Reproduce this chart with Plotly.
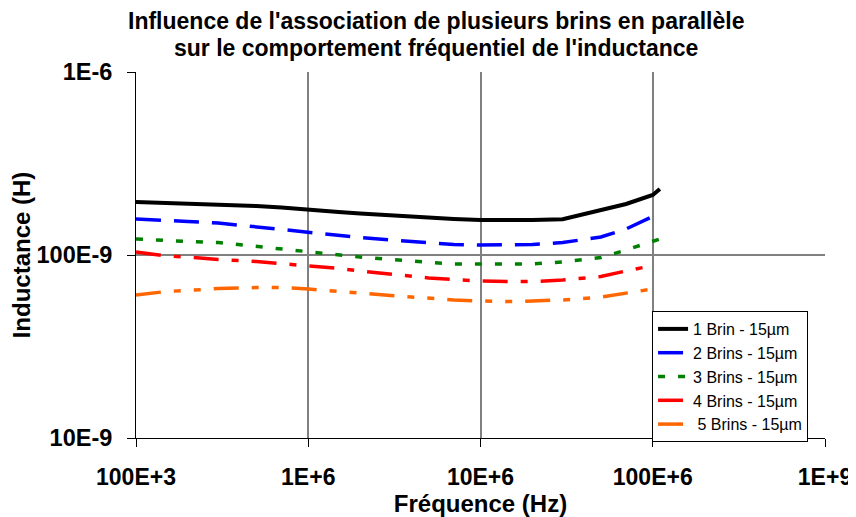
import plotly.graph_objects as go

# Frequencies (Hz)
freq = [1e5, 1.5e5, 2e5, 3e5, 5e5, 7e5, 1e6, 1.5e6, 2e6, 3e6, 5e6, 7e6,
        1e7, 1.5e7, 2e7, 3e7, 5e7, 7e7, 1e8]
freq_ext = freq + [1.1e8]

# Inductance values (H)
l_1brin = [1.949e-7, 1.925e-7, 1.925e-7, 1.90e-7, 1.853e-7, 1.818e-7, 1.762e-7,
           1.718e-7, 1.686e-7, 1.644e-7, 1.593e-7, 1.573e-7, 1.553e-7, 1.543e-7,
           1.553e-7, 1.567e-7, 1.762e-7, 1.90e-7, 2.128e-7, 2.295e-7]
l_2brins = [1.573e-7, 1.553e-7, 1.524e-7, 1.496e-7, 1.422e-7, 1.369e-7, 1.327e-7,
            1.278e-7, 1.246e-7, 1.208e-7, 1.163e-7, 1.141e-7, 1.134e-7, 1.134e-7,
            1.141e-7, 1.170e-7, 1.254e-7, 1.387e-7, 1.623e-7]
l_3brins = [1.223e-7, 1.193e-7, 1.185e-7, 1.170e-7, 1.113e-7, 1.078e-7, 1.038e-7,
            1.000e-7, 9.75e-8, 9.45e-8, 9.10e-8, 8.93e-8, 8.93e-8, 8.93e-8,
            8.93e-8, 9.16e-8, 9.69e-8, 1.065e-7, 1.178e-7, 1.223e-7]
l_4brins = [1.038e-7, 9.87e-8, 9.75e-8, 9.45e-8, 9.21e-8, 8.99e-8, 8.76e-8,
            8.44e-8, 8.18e-8, 7.87e-8, 7.49e-8, 7.35e-8, 7.21e-8, 7.16e-8,
            7.16e-8, 7.30e-8, 7.63e-8, 8.18e-8, 8.76e-8]
l_5brins = [6.04e-8, 6.32e-8, 6.40e-8, 6.56e-8, 6.64e-8, 6.64e-8, 6.52e-8,
            6.36e-8, 6.20e-8, 6.01e-8, 5.78e-8, 5.68e-8, 5.61e-8, 5.57e-8,
            5.61e-8, 5.68e-8, 5.89e-8, 6.16e-8, 6.52e-8]

series_names = ["1 Brin - 15µm", "2 Brins - 15µm", "3 Brins - 15µm",
                "4 Brins - 15µm", "\u00a05 Brins - 15µm"]

x_tickvals = [1e5, 1e6, 1e7, 1e8, 1e9]
x_ticktext = ["100E+3", "1E+6", "10E+6", "100E+6", "1E+9"]
y_tickvals = [1e-8, 1e-7, 1e-6]
y_ticktext = ["10E-9", "100E-9", "1E-6"]

title_line1 = "Influence de l'association de plusieurs brins en parallèle"
title_line2 = "sur le comportement fréquentiel de l'inductance"

FONT = "Liberation Sans, Arial, Helvetica, sans-serif"

fig = go.Figure()
fig.add_trace(go.Scatter(x=freq_ext, y=l_1brin, mode="lines", name=series_names[0],
                         line=dict(color="#000000", width=4)))
fig.add_trace(go.Scatter(x=freq, y=l_2brins, mode="lines", name=series_names[1],
                         line=dict(color="#0000FF", width=3.5, dash="25px,13px")))
fig.add_trace(go.Scatter(x=freq_ext, y=l_3brins, mode="lines", name=series_names[2],
                         line=dict(color="#008000", width=3.5, dash="7px,13px")))
fig.add_trace(go.Scatter(x=freq, y=l_4brins, mode="lines", name=series_names[3],
                         line=dict(color="#FF0000", width=3.5, dash="25px,13px,7px,13px")))
fig.add_trace(go.Scatter(x=freq, y=l_5brins, mode="lines", name=series_names[4],
                         line=dict(color="#FF6600", width=3.5,
                                   dash="25px,13px,7px,13px,7px,13px")))

axis_common = dict(
    showline=True, linecolor="#000000", linewidth=1, mirror=False,
    showgrid=True, gridcolor="#808080", gridwidth=2,
    ticks="outside", ticklen=8, tickcolor="#000000", tickwidth=1,
    zeroline=False, automargin=False,
)

title_font = dict(family=FONT, size=23, color="#000000", weight="bold")

# The page body has an 8px default margin, so the figure is sized to fit the window.
fig.update_layout(
    width=848, height=509,
    margin=dict(l=128, r=31, t=64, b=79),
    paper_bgcolor="#FFFFFF", plot_bgcolor="#FFFFFF",
    font=dict(family=FONT, color="#000000"),
    showlegend=True,
    legend=dict(
        x=0.749, y=0.347, xanchor="left", yanchor="top",
        bgcolor="#FFFFFF", bordercolor="#000000", borderwidth=1,
        font=dict(family=FONT, size=16, color="#000000"),
    ),
    xaxis=dict(
        type="log", range=[5, 9], tickvals=x_tickvals, ticktext=x_ticktext,
        tickfont=dict(family=FONT, size=23, color="#000000", weight="bold"),
        title=dict(text="Fréquence (Hz)", standoff=4,
                   font=dict(family=FONT, size=24, color="#000000", weight="bold")),
        ticklabelstandoff=10,
        **axis_common,
    ),
    yaxis=dict(
        type="log", range=[-8, -6], tickvals=y_tickvals, ticktext=y_ticktext,
        tickfont=dict(family=FONT, size=23.5, color="#000000", weight="bold"),
        title=dict(text="Inductance (H)", standoff=0,
                   font=dict(family=FONT, size=24, color="#000000", weight="bold")),
        ticklabelstandoff=10,
        **axis_common,
    ),
    annotations=[
        dict(text=title_line1, xref="paper", yref="paper", x=0.4347, y=1.1380,
             xanchor="center", yanchor="middle", showarrow=False,
             font=title_font),
        dict(text=title_line2, xref="paper", yref="paper", x=0.4347, y=1.0656,
             xanchor="center", yanchor="middle", showarrow=False,
             font=title_font),
    ],
)

fig.write_html("out.html")
